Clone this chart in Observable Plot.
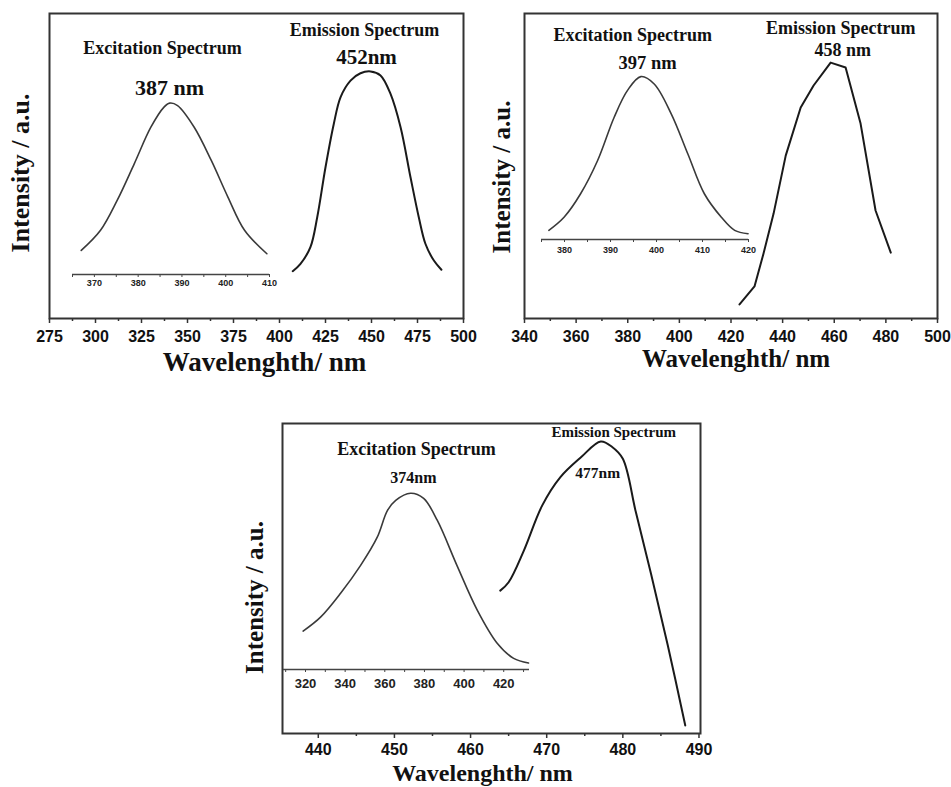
<!DOCTYPE html>
<html><head><meta charset="utf-8">
<script src="https://cdn.jsdelivr.net/npm/d3@7"></script>
<script src="https://cdn.jsdelivr.net/npm/@observablehq/plot@0.6"></script>
<style>
body{margin:0;background:#fff;}
#page{position:relative;width:951px;height:787px;overflow:hidden;background:#fff;}
#page svg{position:absolute;}
</style></head><body><div id="page"></div>
<script>
// ---------- Panel 1 data ----------
const p1MainTicks = [275, 300, 325, 350, 375, 400, 425, 450, 475, 500];
const p1MinorTicks = [287.5, 312.5, 337.5, 362.5, 387.5, 412.5, 437.5, 462.5, 487.5];
const p1InsetTicks = [365, 375, 385, 395, 405];
const p1InsetLabels = [370, 380, 390, 400, 410];
const ex1X = [367.0, 371.4, 375.2, 379.1, 382.9, 385.9, 387.2, 389.0, 392.8, 396.7, 400.5, 404.3, 409.4];
const ex1Y = [22.3, 28.9, 38.7, 50.7, 62.7, 69.3, 70.6, 69.8, 62.7, 51.8, 39.8, 28.9, 21.2];
const em1X = [407.2, 411.4, 416.8, 420.5, 425.0, 429.5, 433.2, 438.6, 444.0, 449.5, 454.9, 460.3, 465.8, 471.2, 475.7, 479.3, 483.9, 488.0];
const em1Y = [15.5, 17.9, 23.4, 33.2, 49.6, 63.8, 72.6, 78.0, 80.4, 81.0, 79.7, 73.7, 62.7, 46.3, 33.2, 24.5, 19.0, 16.0];
const ann1Text = ["Excitation Spectrum", "387 nm", "Emission Spectrum", "452nm"];
const ann1X = [336.4, 340.2, 446.2, 447.3];
const ann1Y = [88.5, 75.7, 94.4, 85.6];
const ann1Size = [18, 22, 18, 21];

// ---------- Panel 2 data ----------
const p2MainTicks = [340, 360, 380, 400, 420, 440, 460, 480, 500];
const p2MinorTicks = [350, 370, 390, 410, 430, 450, 470, 490];
const p2InsetTicks = [375, 385, 395, 405, 415];
const p2InsetLabels = [380, 390, 400, 410, 420];
const ex2X = [376.6, 379.9, 383.5, 387.2, 390.8, 393.7, 396.6, 399.5, 403.2, 406.8, 410.4, 414.1, 417.0, 419.9];
const ex2Y = [28.9, 33.2, 40.9, 51.8, 66.0, 74.8, 79.3, 76.9, 67.1, 54.0, 40.9, 33.2, 28.9, 27.8];
const em2X = [423.3, 429.1, 432.6, 436.5, 441.2, 447.0, 452.0, 458.6, 464.4, 470.2, 476.0, 481.9];
const em2Y = [4.6, 10.5, 21.3, 34.4, 53.4, 69.2, 76.4, 83.9, 82.3, 63.9, 35.4, 21.6];
const ann2Text = ["Excitation Spectrum", "397 nm", "Emission Spectrum", "458 nm"];
const ann2X = [381.9, 387.7, 462.5, 463.3];
const ann2Y = [92.8, 83.6, 95.1, 87.9];
const ann2Size = [18, 18.5, 18, 18];

// ---------- Panel 3 data ----------
const p3MainTicks = [440, 450, 460, 470, 480, 490];
const p3MinorTicks = [445, 455, 465, 475, 485];
const p3InsetTicks = [310, 330, 350, 370, 390, 410, 430];
const p3InsetLabels = [320, 340, 360, 380, 400, 420];
const ex3X = [318.8, 327.6, 337.7, 347.8, 356.2, 361.3, 365.5, 373.0, 379.6, 386.5, 396.6, 406.7, 416.8, 425.0, 432.5];
const ex3Y = [33.0, 37.5, 45.2, 54.2, 63.3, 71.9, 75.2, 77.5, 75.8, 68.7, 53.9, 39.7, 29.0, 24.2, 22.7];
const em3X = [463.9, 465.0, 467.0, 469.4, 471.8, 474.5, 477.1, 478.6, 480.0, 481.7, 483.7, 485.9, 488.2];
const em3Y = [46.1, 48.8, 59.0, 73.5, 82.7, 89.1, 94.2, 92.4, 88.6, 71.5, 51.5, 28.5, 2.6];
const ann3Text = ["Excitation Spectrum", "374nm", "Emission Spectrum", "477nm"];
const ann3X = [452.9, 452.5, 478.8, 476.7];
const ann3Y = [91.6, 82.3, 97.1, 83.9];
const ann3Size = [18, 16, 15, 15.5];

const xTitle = "Wavelenghth/ nm";
const yTitle = "Intensity / a.u.";

const SERIF = "Liberation Serif, Times New Roman, serif";
const SANS = "Liberation Sans, Arial, sans-serif";
const zip = (xs, ys) => xs.map((x, i) => ({x, y: ys[i]}));
const annTable = (t, xs, ys, ss) => t.map((s, i) => ({t: s, x: xs[i], y: ys[i], s: ss[i]}));

const page = document.getElementById("page");

function place(svg, left, top) {
  svg.style.left = left + "px";
  svg.style.top = top + "px";
  page.appendChild(svg);
}

function panel(c) {
  const main = Plot.plot({
    width: c.width, height: c.height,
    marginLeft: c.mL, marginRight: c.mR, marginTop: c.mT, marginBottom: c.mB,
    x: {domain: c.xDomain},
    y: {domain: [0, 100], axis: null},
    style: {background: "transparent", fontFamily: SANS, color: "#111", overflow: "visible"},
    marks: [
      Plot.axisX(c.minor, {tickSize: 3, tickFormat: () => "", label: null, stroke: "#333", strokeWidth: 1.5}),
      Plot.axisX(c.major, {tickSize: 5, tickPadding: c.tickPad, fontSize: 16, fontWeight: "bold", fontFamily: SANS,
        label: null, stroke: "#333", strokeWidth: 1.5, fill: "#111"}),
      Plot.frame({stroke: "#333", strokeWidth: 2}),
      Plot.line(c.em, {x: "x", y: "y", curve: c.emCurve, stroke: "#1a1a1a", strokeWidth: 2}),
      Plot.text(c.ann, {x: "x", y: "y", text: "t", fontSize: d => d.s, fontWeight: "bold",
        fontFamily: SERIF, fill: "#111", textAnchor: "middle", lineAnchor: "middle"}),
      Plot.text([xTitle], {text: d => d, frameAnchor: "bottom", dx: c.xtDx, dy: c.xtDy,
        fontSize: c.xtSize, fontWeight: "bold", fontFamily: SERIF, fill: "#111",
        textAnchor: "middle", lineAnchor: "middle"}),
      Plot.text([yTitle], {text: d => d, frameAnchor: "left", dx: c.ytDx, dy: c.ytDy, rotate: -90,
        fontSize: c.ytSize, fontWeight: "bold", fontFamily: SERIF, fill: "#111",
        textAnchor: "middle", lineAnchor: "middle"})
    ]
  });
  place(main, c.left, c.top);

  const i = c.inset;
  const ins = Plot.plot({
    width: c.width, height: c.height,
    marginLeft: i.mL, marginRight: i.mR, marginTop: c.mT, marginBottom: i.mB,
    x: {domain: i.xDomain},
    y: {domain: [i.base, 100], axis: null},
    style: {background: "transparent", fontFamily: SANS, color: "#222", overflow: "visible"},
    marks: [
      Plot.ruleY([i.base], {stroke: "#444", strokeWidth: 1.5}),
      Plot.axisX(i.ticks, {tickSize: 3, tickFormat: () => "", label: null, stroke: "#444"}),
      Plot.axisX(i.labels, {tickSize: 3, tickPadding: i.pad, fontSize: i.fs, fontWeight: "bold",
        fontFamily: SANS, label: null, stroke: "#444", fill: "#222"}),
      Plot.line(i.ex, {x: "x", y: "y", curve: "catmull-rom", stroke: "#3a3a3a", strokeWidth: 1.6})
    ]
  });
  place(ins, c.left, c.top);
}

panel({
  left: 0, top: 0, width: 480, height: 390, mL: 49, mR: 17, mT: 13, mB: 72,
  xDomain: [275, 500], major: p1MainTicks, minor: p1MinorTicks, tickPad: 7,
  em: zip(em1X, em1Y), emCurve: "catmull-rom",
  ann: annTable(ann1Text, ann1X, ann1Y, ann1Size),
  xtDx: 8, xtDy: 44, xtSize: 27, ytDx: -29, ytDy: 7, ytSize: 26,
  inset: {mL: 72, mR: 211, mB: 116, xDomain: [365, 410], base: 14.4,
    ticks: p1InsetTicks, labels: p1InsetLabels, pad: 2.5, fs: 9, ex: zip(ex1X, ex1Y)}
});

panel({
  left: 480, top: 0, width: 471, height: 390, mL: 44, mR: 14, mT: 13, mB: 72,
  xDomain: [340, 500], major: p2MainTicks, minor: p2MinorTicks, tickPad: 7,
  em: zip(em2X, em2Y), emCurve: "linear",
  ann: annTable(ann2Text, ann2X, ann2Y, ann2Size),
  xtDx: 5, xtDy: 40, xtSize: 25, ytDx: -23, ytDy: 11, ytSize: 25,
  inset: {mL: 61, mR: 203, mB: 151, xDomain: [375, 420], base: 25.9,
    ticks: p2InsetTicks, labels: p2InsetLabels, pad: 4, fs: 9, ex: zip(ex2X, ex2Y)}
});

panel({
  left: 230, top: 400, width: 500, height: 387, mL: 52, mR: 30, mT: 23, mB: 54,
  xDomain: [435.3, 490.2], major: p3MainTicks, minor: p3MinorTicks, tickPad: 5,
  em: zip(em3X, em3Y), emCurve: "catmull-rom",
  ann: annTable(ann3Text, ann3X, ann3Y, ann3Size),
  xtDx: -9, xtDy: 40, xtSize: 24, ytDx: -28, ytDy: 19, ytSize: 25,
  inset: {mL: 53, mR: 201, mB: 118, xDomain: [308.9, 433], base: 20.6,
    ticks: p3InsetTicks, labels: p3InsetLabels, pad: 6, fs: 13, ex: zip(ex3X, ex3Y)}
});
</script></body></html>
